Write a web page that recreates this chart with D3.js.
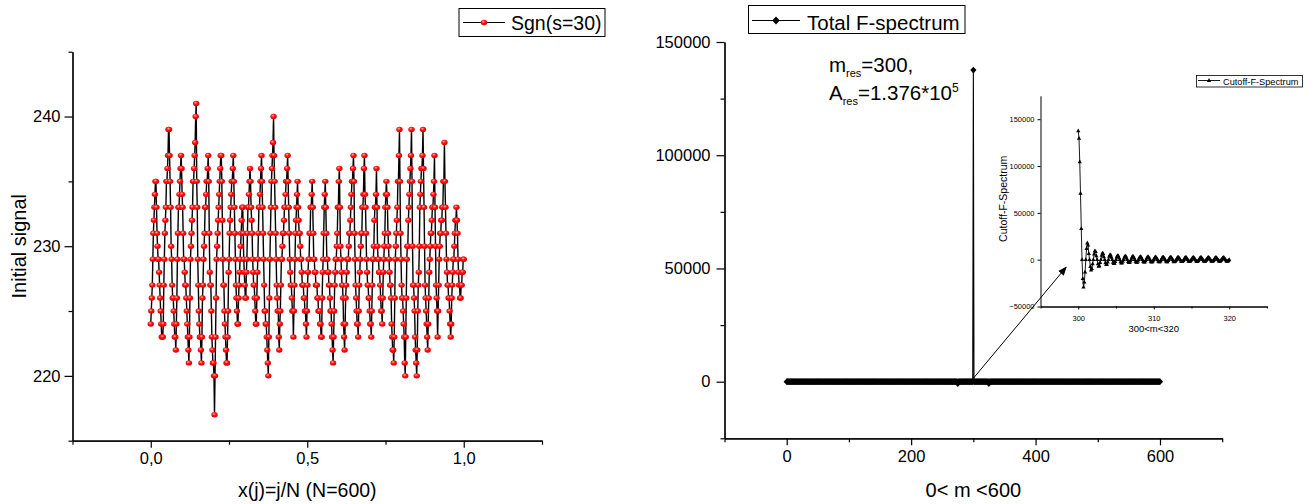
<!DOCTYPE html>
<html><head><meta charset="utf-8">
<script src="https://cdn.jsdelivr.net/npm/d3@7"></script>
<style>
body{margin:0;background:#fff}
svg{display:block}
text{font-family:Arial,"Liberation Sans",sans-serif;fill:#000}
</style>
</head><body>
<svg id="c" width="1316" height="504"></svg>
<script>
// ---------------- DATA ----------------
const N = 600;
// Initial signal Sgn(s=30), j = 0..599 (sweep by sweep)
const signalValues = [
224,225,226,227,229,231,232,233,234,235,235,
233,231,230,229,229,228,227,226,225,224,223,223,223,
224,227,229,231,232,233,235,235,236,237,239,239,
237,235,233,230,229,227,226,226,225,224,223,223,222,
224,226,229,231,233,233,234,235,236,237,
236,234,233,231,229,229,228,227,227,226,225,224,223,222,221,
223,226,229,230,231,232,233,235,235,236,237,238,240,241,
235,233,229,227,225,224,223,223,222,221,
223,226,227,229,230,231,233,233,234,235,235,236,237,
235,231,228,227,227,225,223,222,221,221,220,217,
220,223,226,229,230,231,232,233,234,235,236,237,237,
235,232,229,227,227,225,224,223,222,221,221,
223,225,228,229,231,232,233,234,235,235,236,237,
235,233,231,229,227,226,225,224,224,
226,227,228,229,230,231,232,233,233,
231,229,228,227,226,226,
228,229,231,233,233,234,235,236,
235,233,232,231,229,228,227,227,226,225,224,224,
226,228,229,231,233,233,234,235,236,237,
235,233,231,229,227,225,225,224,224,223,222,221,220,
223,226,229,231,233,235,236,237,238,240,
237,235,233,231,229,227,226,225,225,223,222,
224,225,227,229,229,230,231,231,232,233,233,234,235,235,236,237,
235,233,231,229,228,227,227,226,225,225,223,
225,227,229,231,232,233,234,235,
233,232,231,231,230,229,229,228,227,227,227,226,226,225,225,224,223,
225,227,228,229,229,231,231,233,233,234,235,
233,231,229,229,228,228,227,227,227,226,226,225,225,225,224,224,223,223,
226,228,229,231,233,234,235,
233,231,229,229,228,228,227,227,226,225,225,224,223,222,221,
223,225,227,228,229,229,230,231,233,233,235,236,
233,230,229,228,227,227,226,224,223,222,
224,226,227,228,229,229,229,230,231,231,232,233,234,235,235,236,237,
235,231,229,227,226,225,224,224,223,
225,227,228,229,230,231,231,233,233,234,236,237,
234,233,231,229,228,227,227,226,226,225,224,224,223,
225,227,229,229,230,232,233,233,234,236,
233,230,229,229,228,228,227,226,225,225,224,
226,228,229,230,231,233,234,235,
234,233,231,230,229,228,227,227,226,224,223,222,222,221,
223,226,229,230,231,232,233,235,235,237,239,
235,231,229,227,226,226,225,224,223,221,220,
223,226,229,230,230,232,233,234,235,236,237,239,
235,230,227,227,226,225,223,222,221,220,
222,225,227,228,230,233,234,235,236,236,237,239,
236,233,230,227,226,225,224,223,222,
224,226,228,229,230,231,231,232,233,233,234,235,237,
233,230,227,226,225,223,
225,227,229,230,231,231,232,232,233,233,235,235,238,
235,233,231,229,228,227,227,226,226,225,224,223,
224,226,227,228,229,229,230,231,232,232,233,
232,231,229,228,227,227,226,
226,227,227,228,228,229,229
];
const leftXTicks = [0, 0.5, 1];
const leftXTickLabels = ["0,0", "0,5", "1,0"];
const leftXMinor = [-0.25, 0.25, 0.75, 1.25];
const leftYTicks = [220, 230, 240];
const leftYMinor = [215, 225, 235, 245];

// Total F-spectrum: m = 0..600, zero everywhere except these points
const totalM = d3.range(0, 601);
const totalNonZero = [[275, -800], [300, 137600], [325, -800]];
const rightXTicks = [0, 200, 400, 600];
const rightXMinor = [-100, 100, 300, 500, 700];
const rightYTicks = [0, 50000, 100000, 150000];
const rightYMinor = [-25000, 25000, 75000, 125000];

// Cutoff-F-Spectrum, m = 300.0 .. 320.0 step 0.1
const cutoffValues = [
137600,129500,104500,70700,33200,0,-20300,-29300,-24000,-13300,
0,11800,17800,15500,6500,0,-7500,-11000,-9500,-4500,
0,6000,9500,8500,4000,0,-4500,-7000,-6500,-3000,
0,4500,7000,6500,3000,0,-3500,-5200,-5000,-2500,
0,3500,5200,5000,2500,0,-2800,-4200,-4000,-2000,
0,3000,4300,4100,2000,0,-2400,-3600,-3500,-1700,
0,2600,3800,3700,1800,0,-2100,-3200,-3100,-1500,
0,2400,3500,3400,1600,0,-1900,-2900,-2800,-1400,
0,2200,3200,3100,1500,0,-1800,-2700,-2600,-1300,
0,2100,3000,2900,1400,0,-1700,-2500,-2400,-1200,
0,2000,2900,2800,1400,0,-1600,-2400,-2300,-1200,
0,1900,2800,2700,1300,0,-1500,-2300,-2200,-1100,
0,1900,2700,2600,1300,0,-1500,-2200,-2100,-1100,
0,1800,2600,2500,1200,0,-1400,-2100,-2000,-1000,
0,1800,2500,2400,1200,0,-1400,-2000,-1900,-1000,
0,1700,2500,2400,1200,0,-1300,-2000,-1900,-1000,
0,1700,2400,2300,1100,0,-1300,-1900,-1800,-900,
0,1600,2400,2300,1100,0,-1300,-1900,-1800,-900,
0,1600,2300,2200,1100,0,-1200,-1800,-1700,-900,
0,1600,2300,2200,1100,0,-1200,-1800,-1700,-900,
0
];
const insetXTicks = [300, 310, 320];
const insetXMinor = [295, 305, 315, 325];
const insetYTicks = [-50000, 0, 50000, 100000, 150000];

// ---------------- DRAW ----------------
const svg = d3.select("#c");
const defs = svg.append("defs");
const grad = defs.append("radialGradient").attr("id", "ball")
  .attr("cx", "40%").attr("cy", "35%").attr("r", "65%");
grad.append("stop").attr("offset", "0%").attr("stop-color", "#ffb0b0");
grad.append("stop").attr("offset", "45%").attr("stop-color", "#ff1010");
grad.append("stop").attr("offset", "100%").attr("stop-color", "#d80000");
defs.append("marker").attr("id", "arr").attr("viewBox", "0 0 10 10")
  .attr("refX", 9).attr("refY", 5).attr("markerWidth", 9).attr("markerHeight", 9)
  .attr("markerUnits", "userSpaceOnUse").attr("orient", "auto")
  .append("path").attr("d", "M0,1 L10,5 L0,9 Z").attr("fill", "#000");

function styleAxis(g, fs) {
  g.select(".domain").attr("stroke", "#000").attr("stroke-width", 1.2);
  g.selectAll(".tick line").attr("stroke", "#000").attr("stroke-width", 1.2);
  g.selectAll(".tick text").attr("font-size", fs).attr("fill", "#000")
    .attr("font-family", "Arial, 'Liberation Sans', sans-serif");
}

// ===== LEFT CHART =====
const lx = d3.scaleLinear().domain([-0.25, 1.25]).range([72.5, 542]);
const ly = d3.scaleLinear().domain([215, 245]).range([440.7, 51.7]);

const lxa = svg.append("g").attr("transform", `translate(0,${ly(215)})`)
  .call(d3.axisBottom(lx).tickValues(leftXTicks).tickSize(7).tickPadding(5)
    .tickFormat((d, i) => leftXTickLabels[i]).tickSizeOuter(0));
styleAxis(lxa, 16.5);
const lxm = svg.append("g").attr("transform", `translate(0,${ly(215)})`)
  .call(d3.axisBottom(lx).tickValues(leftXMinor).tickSize(4).tickFormat("").tickSizeOuter(0));
styleAxis(lxm, 1);
const lya = svg.append("g").attr("transform", `translate(${lx(-0.25)},0)`)
  .call(d3.axisLeft(ly).tickValues(leftYTicks).tickSize(8).tickPadding(4).tickSizeOuter(0));
styleAxis(lya, 16.5);
const lym = svg.append("g").attr("transform", `translate(${lx(-0.25)},0)`)
  .call(d3.axisLeft(ly).tickValues(leftYMinor).tickSize(4).tickFormat("").tickSizeOuter(0));
styleAxis(lym, 1);

const sig = signalValues.map((v, j) => ({x: j / (N - 1), v}));
svg.append("path").datum(sig)
  .attr("d", d3.line().x(d => lx(d.x)).y(d => ly(d.v)))
  .attr("fill", "none").attr("stroke", "#000").attr("stroke-width", 1.4);
svg.append("g").selectAll("ellipse").data(sig).join("ellipse")
  .attr("cx", d => lx(d.x)).attr("cy", d => ly(d.v))
  .attr("rx", 3.2).attr("ry", 2.7).attr("fill", "url(#ball)");

svg.append("text").attr("transform", `translate(26,${ly(230)}) rotate(-90)`)
  .attr("text-anchor", "middle").attr("font-size", 20).text("Initial signal");
svg.append("text").attr("x", lx(0.5)).attr("y", 497).attr("text-anchor", "middle")
  .attr("font-size", 19.5).text("x(j)=j/N (N=600)");

// legend left
svg.append("rect").attr("x", 459).attr("y", 8.5).attr("width", 146).attr("height", 28)
  .attr("fill", "#fff").attr("stroke", "#000").attr("stroke-width", 1);
svg.append("line").attr("x1", 463).attr("x2", 505).attr("y1", 22.5).attr("y2", 22.5)
  .attr("stroke", "#000").attr("stroke-width", 1.1);
svg.append("ellipse").attr("cx", 484).attr("cy", 22.5).attr("rx", 3.2).attr("ry", 2.7).attr("fill", "url(#ball)");
svg.append("text").attr("x", 511).attr("y", 29.5).attr("font-size", 19.5).text("Sgn(s=30)");

// ===== RIGHT CHART =====
const rx = d3.scaleLinear().domain([-100, 700]).range([724.5, 1222.2]);
const ry = d3.scaleLinear().domain([-25000, 150000]).range([438.3, 42]);

const rxa = svg.append("g").attr("transform", `translate(0,${ry(-25000)})`)
  .call(d3.axisBottom(rx).tickValues(rightXTicks).tickSize(7).tickPadding(5).tickSizeOuter(0));
styleAxis(rxa, 16.5);
const rxm = svg.append("g").attr("transform", `translate(0,${ry(-25000)})`)
  .call(d3.axisBottom(rx).tickValues(rightXMinor).tickSize(4).tickFormat("").tickSizeOuter(0));
styleAxis(rxm, 1);
const rya = svg.append("g").attr("transform", `translate(${rx(-100)},0)`)
  .call(d3.axisLeft(ry).tickValues(rightYTicks).tickSize(8).tickPadding(6).tickFormat(d3.format("d")).tickSizeOuter(0));
styleAxis(rya, 16.5);
const rym = svg.append("g").attr("transform", `translate(${rx(-100)},0)`)
  .call(d3.axisLeft(ry).tickValues(rightYMinor).tickSize(4).tickFormat("").tickSizeOuter(0));
styleAxis(rym, 1);

const nz = new Map(totalNonZero);
const tot = totalM.map(m => ({m, v: nz.has(m) ? nz.get(m) : 0}));
svg.append("path").datum(tot)
  .attr("d", d3.line().x(d => rx(d.m)).y(d => ry(d.v)))
  .attr("fill", "none").attr("stroke", "#000").attr("stroke-width", 1.1);
const dia = "M0,-3.4L3.1,0L0,3.4L-3.1,0Z";
svg.append("g").selectAll("path").data(tot).join("path")
  .attr("transform", d => `translate(${rx(d.m)},${ry(d.v)})`)
  .attr("d", dia).attr("fill", "#000");

svg.append("text").attr("x", rx(300)).attr("y", 497).attr("text-anchor", "middle")
  .attr("font-size", 20).text("0< m <600");

// legend right
svg.append("rect").attr("x", 748.5).attr("y", 5.5).attr("width", 216.5).attr("height", 28)
  .attr("fill", "#fff").attr("stroke", "#000").attr("stroke-width", 1);
svg.append("line").attr("x1", 752).attr("x2", 800).attr("y1", 20.5).attr("y2", 20.5)
  .attr("stroke", "#000").attr("stroke-width", 1.1);
svg.append("path").attr("transform", "translate(776,20.5)").attr("d", "M0,-4L3.8,0L0,4L-3.8,0Z").attr("fill", "#000");
svg.append("text").attr("x", 807).attr("y", 29.5).attr("font-size", 20.5).text("Total F-spectrum");

// annotation
const mt = svg.append("text").attr("x", 829).attr("y", 71.5).attr("font-size", 20.5);
mt.append("tspan").text("m");
mt.append("tspan").attr("font-size", 11).attr("dy", 5).text("res");
mt.append("tspan").attr("dy", -5).text("=300,");
const at = svg.append("text").attr("x", 829).attr("y", 100).attr("font-size", 20.5);
at.append("tspan").text("A");
at.append("tspan").attr("font-size", 11).attr("dy", 5).text("res");
at.append("tspan").attr("dy", -5).text("=1.376*10");
at.append("tspan").attr("font-size", 12).attr("dy", -8).text("5");

// ===== INSET =====
const ix = d3.scaleLinear().domain([295, 325]).range([1040.5, 1267]);
const iy = d3.scaleLinear().domain([-50000, 175000]).range([306.5, 95.8]);

const ixa = svg.append("g").attr("transform", `translate(0,${iy(-50000)})`)
  .call(d3.axisBottom(ix).tickValues(insetXTicks).tickSize(3).tickPadding(6).tickSizeOuter(0));
styleAxis(ixa, 7.5);
ixa.selectAll(".domain,.tick line").attr("stroke-width", 1);
const ixm = svg.append("g").attr("transform", `translate(0,${iy(-50000)})`)
  .call(d3.axisBottom(ix).tickValues(insetXMinor).tickSize(2).tickFormat("").tickSizeOuter(0));
styleAxis(ixm, 1);
ixm.selectAll(".domain,.tick line").attr("stroke-width", 1);
const iya = svg.append("g").attr("transform", `translate(${ix(295)},0)`)
  .call(d3.axisLeft(iy).tickValues(insetYTicks).tickSize(3).tickPadding(3).tickFormat(d3.format("d")).tickSizeOuter(0));
styleAxis(iya, 7.5);
iya.selectAll(".domain,.tick line").attr("stroke-width", 1);

const cut = cutoffValues.map((v, i) => ({m: 300 + i / 10, v}));
svg.append("path").datum(cut)
  .attr("d", d3.line().x(d => ix(d.m)).y(d => iy(d.v)))
  .attr("fill", "none").attr("stroke", "#000").attr("stroke-width", 0.9);
const tri = "M0,-2.4L2.1,1.4L-2.1,1.4Z";
svg.append("g").selectAll("path").data(cut).join("path")
  .attr("transform", d => `translate(${ix(d.m)},${iy(d.v)})`)
  .attr("d", tri).attr("fill", "#000");

svg.append("text").attr("transform", `translate(1007,${iy(65000)}) rotate(-90)`)
  .attr("text-anchor", "middle").attr("font-size", 10.5).text("Cutoff-F-Spectrum");
svg.append("text").attr("x", ix(310)).attr("y", 332).attr("text-anchor", "middle")
  .attr("font-size", 9.5).text("300<m<320");

// inset legend
svg.append("rect").attr("x", 1196.5).attr("y", 75.5).attr("width", 106).attr("height", 11.5)
  .attr("fill", "#fff").attr("stroke", "#000").attr("stroke-width", 0.8);
svg.append("line").attr("x1", 1198).attr("x2", 1220).attr("y1", 80.5).attr("y2", 80.5)
  .attr("stroke", "#000").attr("stroke-width", 0.9);
svg.append("path").attr("transform", "translate(1209,80.5)").attr("d", tri).attr("fill", "#000");
svg.append("text").attr("x", 1223).attr("y", 84.5).attr("font-size", 9.2).text("Cutoff-F-Spectrum");

// arrow from main spike base to the inset
svg.append("line")
  .attr("x1", rx(300)).attr("y1", ry(1500))
  .attr("x2", ix(298.4)).attr("y2", iy(-8000))
  .attr("stroke", "#000").attr("stroke-width", 1).attr("marker-end", "url(#arr)");
</script>
</body></html>
